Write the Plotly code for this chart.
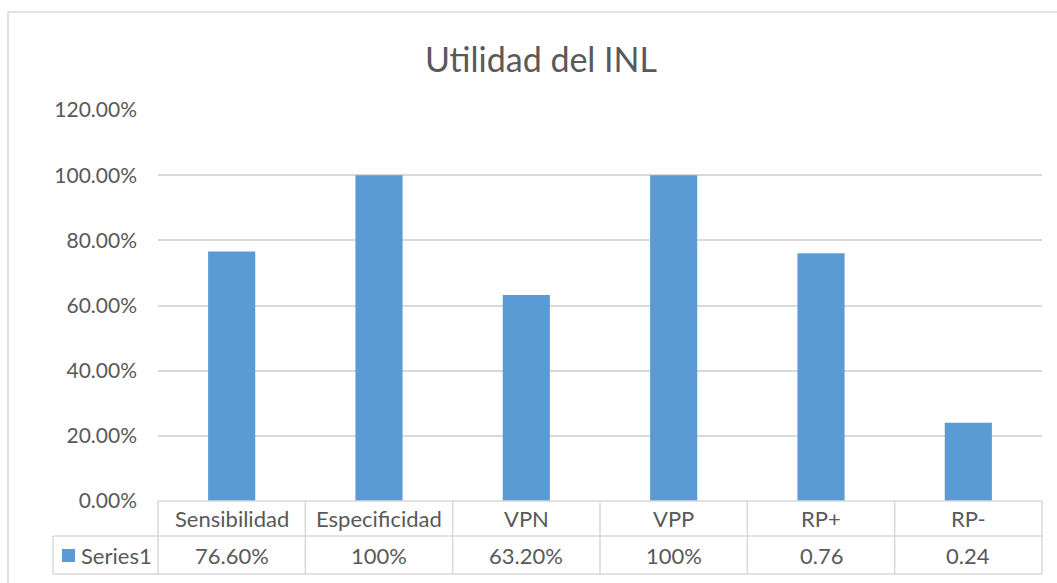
import plotly.graph_objects as go

categories = ["Sensibilidad", "Especificidad", "VPN", "VPP", "RP+", "RP-"]
values = [0.766, 1.00, 0.632, 1.00, 0.76, 0.24]
table_labels = ["76.60%", "100%", "63.20%", "100%", "0.76", "0.24"]
series_name = "Series1"
title_text = "Utilidad del INL"

W, H = 1057, 583
PL, PR, PT, PB = 158, 1042, 110, 501
FONT = "Lato"
TXT = "#595959"
GRID = "#D9D9D9"
BAR = "#5B9BD5"


def px(xp):
    return (xp - PL) / (PR - PL)


def py(yp):
    return (PB - yp) / (PB - PT)


fig = go.Figure()
fig.add_trace(go.Bar(x=categories, y=values, name=series_name,
                     marker=dict(color=BAR, line=dict(width=0))))

shapes = []
ann = []
# outer chart border
shapes.append(dict(type="rect", xref="paper", yref="paper",
                   x0=px(8), x1=px(1200), y0=py(700), y1=py(12),
                   line=dict(color=GRID, width=1.5), fillcolor="rgba(0,0,0,0)"))

row1_top, row1_bot, row2_bot = 501, 536, 574
legend_left = 53
# horizontal table lines
shapes.append(dict(type="line", xref="paper", yref="paper", x0=px(PL), x1=px(PR),
                   y0=py(row1_top), y1=py(row1_top), line=dict(color=GRID, width=1.5)))
for yy in (row1_bot, row2_bot):
    shapes.append(dict(type="line", xref="paper", yref="paper", x0=px(legend_left), x1=px(PR),
                       y0=py(yy), y1=py(yy), line=dict(color=GRID, width=1.5)))
# vertical lines
shapes.append(dict(type="line", xref="paper", yref="paper", x0=px(legend_left), x1=px(legend_left),
                   y0=py(row1_bot), y1=py(row2_bot), line=dict(color=GRID, width=1.5)))
n = len(categories)
for i in range(n + 1):
    xx = i / n
    shapes.append(dict(type="line", xref="paper", yref="paper", x0=xx, x1=xx,
                       y0=py(row1_top), y1=py(row2_bot), line=dict(color=GRID, width=1.5)))

for i, (c, lab) in enumerate(zip(categories, table_labels)):
    ann.append(dict(x=c, xref="x", y=py((row1_top + row1_bot) / 2), yref="paper",
                    text=c, showarrow=False, font=dict(family=FONT, size=22, color=TXT),
                    xanchor="center", yanchor="middle"))
    ann.append(dict(x=c, xref="x", y=py((row1_bot + row2_bot) / 2), yref="paper",
                    text=lab, showarrow=False, font=dict(family=FONT, size=22, color=TXT),
                    xanchor="center", yanchor="middle"))

# legend key in table
shapes.append(dict(type="rect", xref="paper", yref="paper", x0=px(62), x1=px(75),
                   y0=py(562), y1=py(549), fillcolor=BAR, line=dict(width=0)))
ann.append(dict(x=px(79), xref="paper", y=py((row1_bot + row2_bot) / 2), yref="paper",
                text=series_name, showarrow=False, font=dict(family=FONT, size=22, color=TXT),
                xanchor="left", yanchor="middle"))

fig.update_layout(
    width=W, height=H,
    margin=dict(l=PL, r=W - PR, t=PT, b=H - PB),
    paper_bgcolor="white", plot_bgcolor="white",
    title=dict(text=title_text, x=541 / W, xref="container", xanchor="center",
               y=1 - 60 / H, yref="container", yanchor="middle",
               font=dict(family=FONT, size=34, color=TXT)),
    showlegend=False,
    bargap=0.68,
    shapes=shapes,
    annotations=ann,
    xaxis=dict(showticklabels=False, showgrid=False, showline=False, zeroline=False, ticks=""),
    yaxis=dict(range=[0, 1.2], dtick=0.2, tick0=0, tickformat=".2%",
               showgrid=True, gridcolor=GRID, gridwidth=1.5, zeroline=False,
               showline=False, ticks="", ticklabelstandoff=20,
               tickfont=dict(family=FONT, size=21, color=TXT)),
)

fig.write_html("out.html", config={"displayModeBar": False},
               post_script="document.body.style.margin='0';document.body.style.overflow='hidden';")
